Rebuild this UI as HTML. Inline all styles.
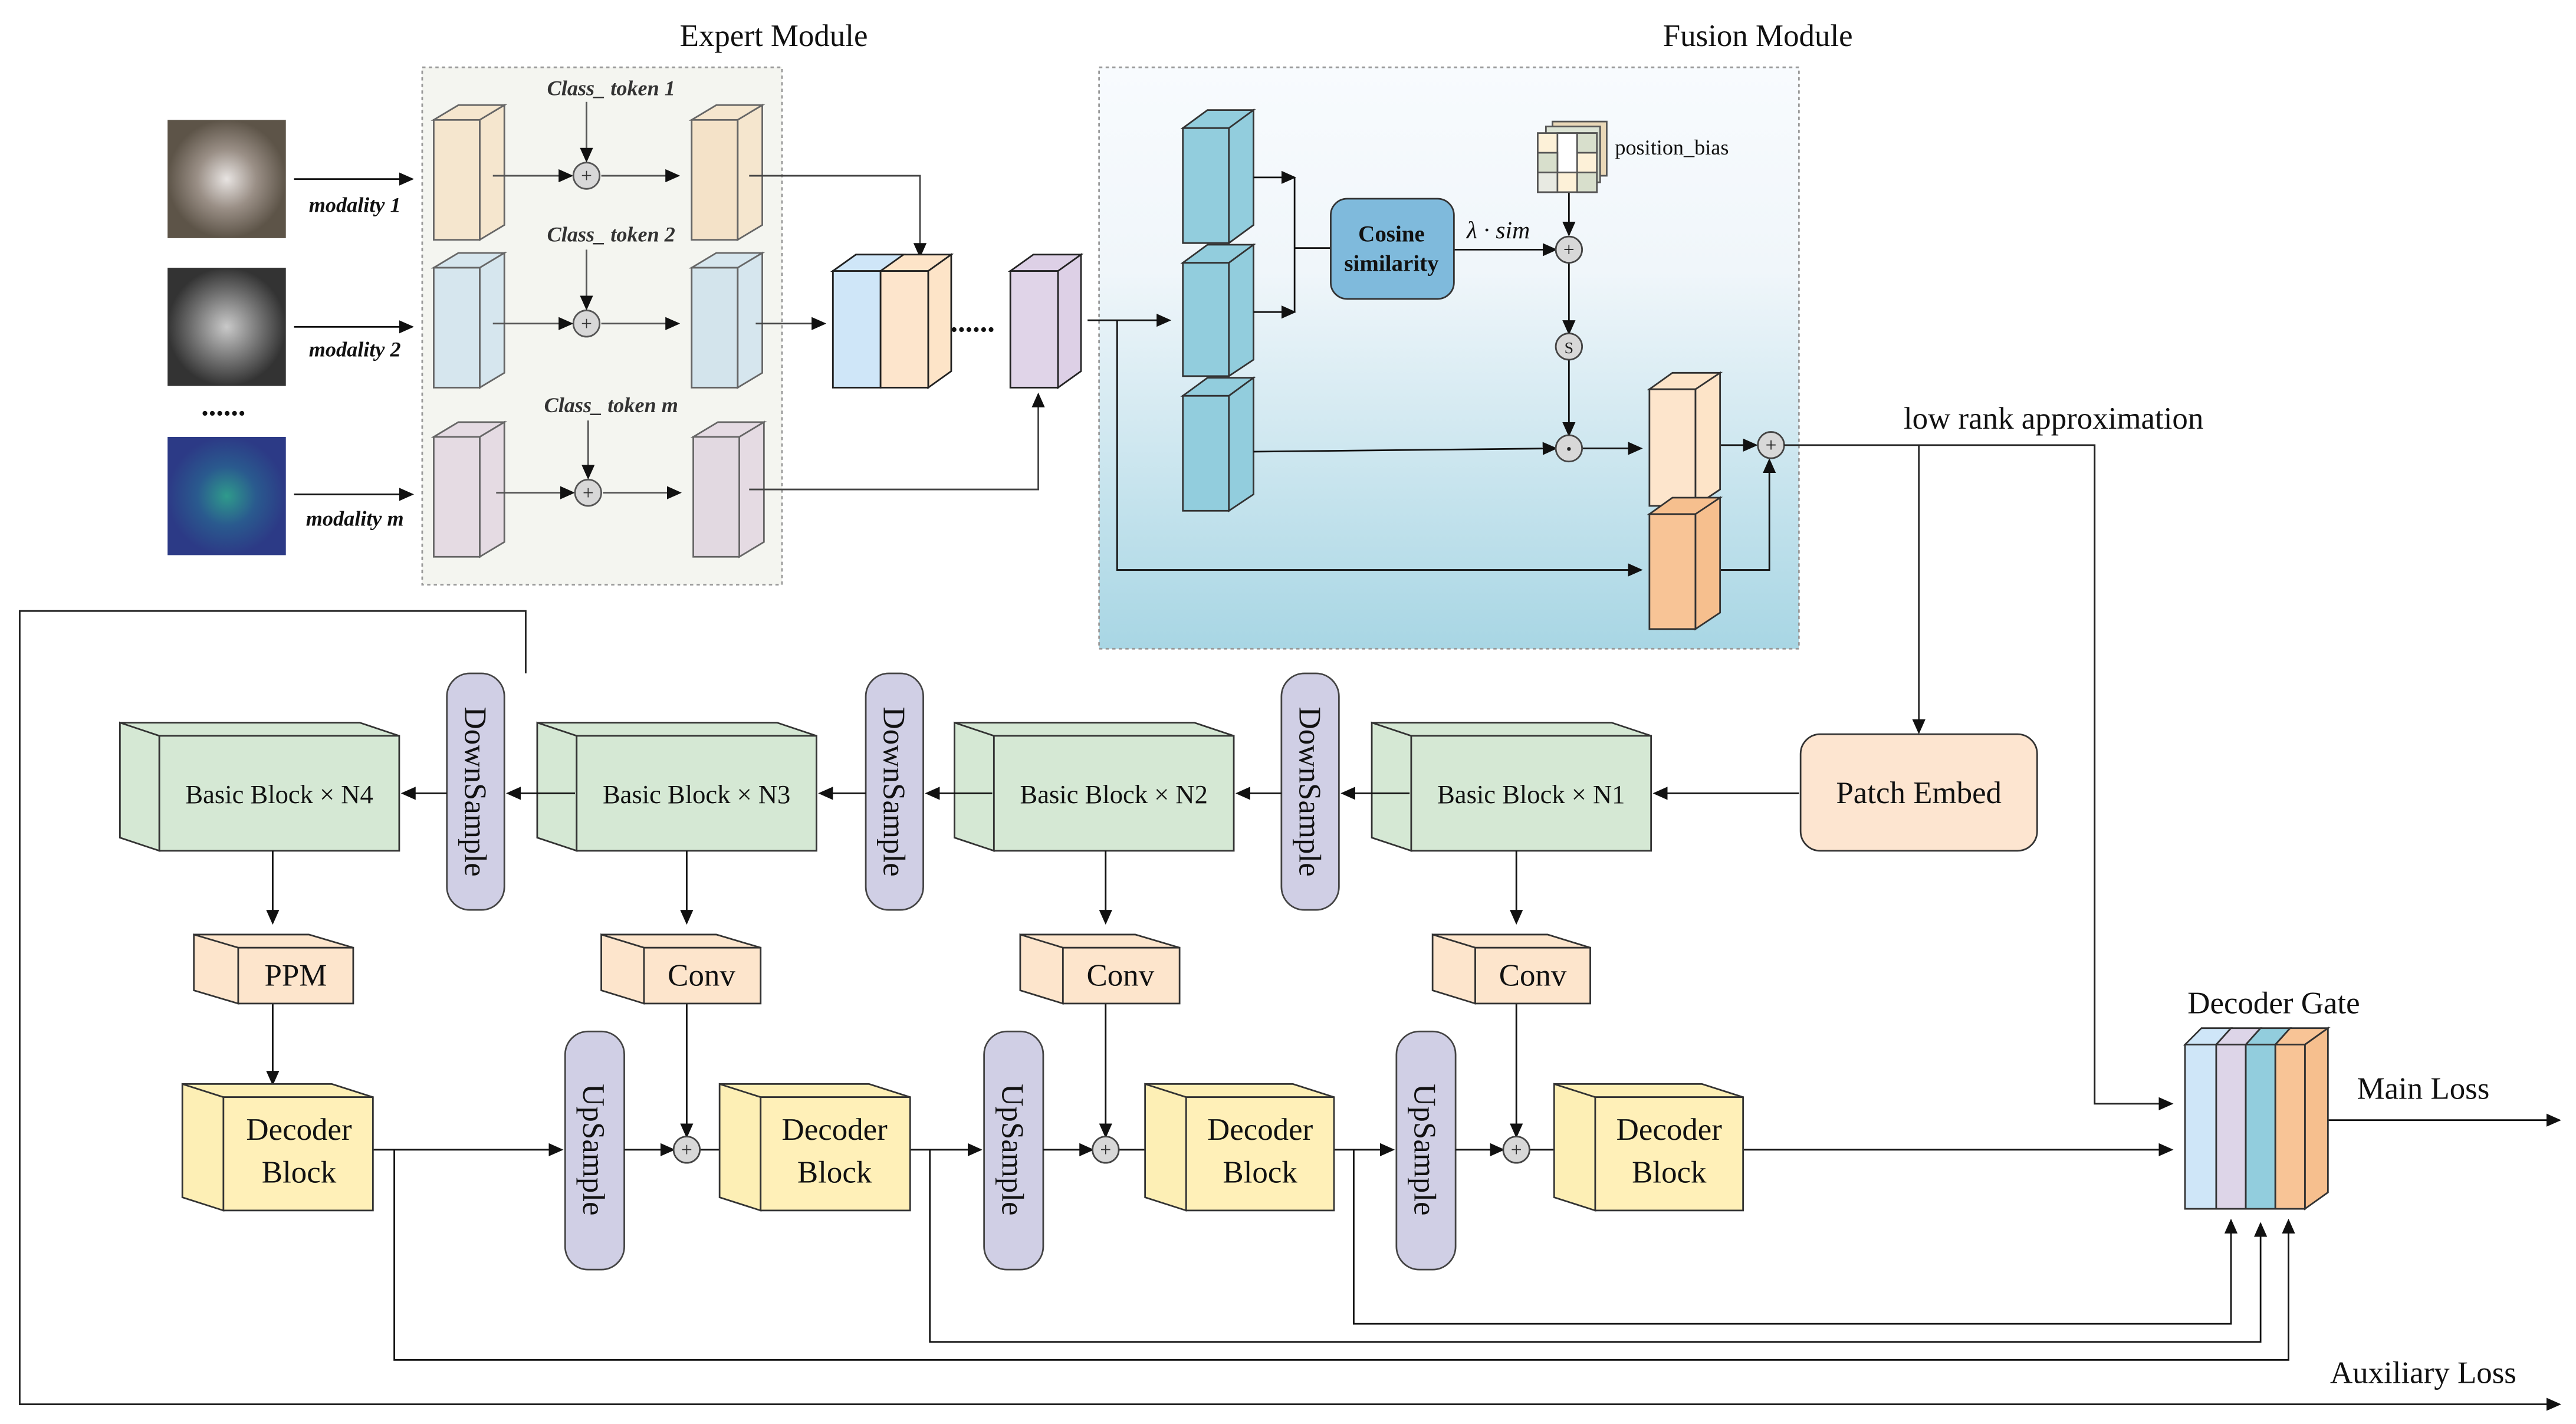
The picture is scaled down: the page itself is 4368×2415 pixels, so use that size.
<!DOCTYPE html>
<html><head><meta charset="utf-8"><style>html,body{margin:0;padding:0;background:#fff}svg{display:block}svg text{font-family:"Liberation Serif","DejaVu Serif",serif}</style></head><body>
<svg width="4368" height="2415" viewBox="0 0 1568 867" preserveAspectRatio="none" xmlns="http://www.w3.org/2000/svg">
<defs>
<marker id="a" markerUnits="userSpaceOnUse" markerWidth="9" markerHeight="8" refX="8" refY="4" orient="auto"><path d="M0,0 L9,4 L0,8 z" fill="#111"/></marker>
<linearGradient id="fg" x1="0" y1="0" x2="0" y2="1"><stop offset="0" stop-color="#f8fbfe"/><stop offset="0.35" stop-color="#f0f6fa"/><stop offset="1" stop-color="#a8d6e4"/></linearGradient>
<radialGradient id="im1"><stop offset="0" stop-color="#e8e4e2"/><stop offset="0.5" stop-color="#9a8f86"/><stop offset="1" stop-color="#5d5448"/></radialGradient>
<radialGradient id="im2"><stop offset="0" stop-color="#c9c9c9"/><stop offset="0.6" stop-color="#6e6e6e"/><stop offset="1" stop-color="#333"/></radialGradient>
<radialGradient id="im3"><stop offset="0" stop-color="#2f9a8c"/><stop offset="0.5" stop-color="#2a5a8e"/><stop offset="1" stop-color="#2c3a86"/></radialGradient>
</defs>
<g stroke="#333" stroke-width="1">
<text x="471" y="28" font-size="19" text-anchor="middle" stroke="none" fill="#111">Expert Module</text>
<text x="1070" y="28" font-size="19" text-anchor="middle" stroke="none" fill="#111">Fusion Module</text>
<rect x="257" y="41" width="219" height="315" fill="#f4f5f0" stroke="#999" stroke-dasharray="2,2"/>
<rect x="669" y="41" width="426" height="354" fill="url(#fg)" stroke="#999" stroke-dasharray="2,2"/>
<rect x="102" y="73" width="72" height="72" fill="url(#im1)" stroke="none"/>
<rect x="102" y="163" width="72" height="72" fill="url(#im2)" stroke="none"/>
<rect x="102" y="266" width="72" height="72" fill="url(#im3)" stroke="none"/>
<text x="136" y="253" font-size="18" font-weight="bold" text-anchor="middle" stroke="none" fill="#111">......</text>
<g stroke="#111"><line x1="179" y1="109" x2="251" y2="109" marker-end="url(#a)"/><line x1="179" y1="199" x2="251" y2="199" marker-end="url(#a)"/><line x1="179" y1="301" x2="251" y2="301" marker-end="url(#a)"/></g>
<g font-size="13" font-style="italic" font-weight="bold" stroke="none" fill="#111" text-anchor="middle">
<text x="216" y="129">modality 1</text><text x="216" y="217">modality 2</text><text x="216" y="320">modality m</text></g>
<g stroke="#666">
<path d="M264,73 L279,64 L307,64 L292,73Z M292,73 L307,64 L307,137 L292,146Z" fill="#f5e6ce"/><rect x="264" y="73" width="28" height="73" fill="#f5e6ce"/>
<path d="M421,73 L436,64 L464,64 L449,73Z M449,73 L464,64 L464,137 L449,146Z" fill="#f5e6ce"/><rect x="421" y="73" width="28" height="73" fill="#f4e2c8"/>
<path d="M264,163 L279,154 L307,154 L292,163Z M292,163 L307,154 L307,227 L292,236Z" fill="#d6e6ee"/><rect x="264" y="163" width="28" height="73" fill="#d6e6ee"/>
<path d="M421,163 L436,154 L464,154 L449,163Z M449,163 L464,154 L464,227 L449,236Z" fill="#d6e6ee"/><rect x="421" y="163" width="28" height="73" fill="#d3e4ec"/>
<path d="M264,266 L279,257 L307,257 L292,266Z M292,266 L307,257 L307,330 L292,339Z" fill="#e5dbe3"/><rect x="264" y="266" width="28" height="73" fill="#e5dbe3"/>
<path d="M422,266 L437,257 L465,257 L450,266Z M450,266 L465,257 L465,330 L450,339Z" fill="#e5dbe3"/><rect x="422" y="266" width="28" height="73" fill="#e2d9e1"/>
</g>
<g font-size="13" font-style="italic" font-weight="bold" stroke="none" fill="#333" text-anchor="middle">
<text x="372" y="58">Class_  token 1</text><text x="372" y="147">Class_  token 2</text><text x="372" y="251">Class_  token m</text></g>
<g stroke="#555">
<line x1="357" y1="62" x2="357" y2="98" marker-end="url(#a)"/><line x1="357" y1="152" x2="357" y2="188" marker-end="url(#a)"/><line x1="358" y1="256" x2="358" y2="291" marker-end="url(#a)"/>
<line x1="300" y1="107" x2="348" y2="107" marker-end="url(#a)"/><line x1="366" y1="107" x2="413" y2="107" marker-end="url(#a)"/>
<line x1="300" y1="197" x2="348" y2="197" marker-end="url(#a)"/><line x1="366" y1="197" x2="413" y2="197" marker-end="url(#a)"/>
<line x1="302" y1="300" x2="349" y2="300" marker-end="url(#a)"/><line x1="367" y1="300" x2="414" y2="300" marker-end="url(#a)"/>
</g>
<g fill="#d8d8d8" stroke="#555"><circle cx="357" cy="107" r="8"/><circle cx="357" cy="197" r="8"/><circle cx="358" cy="300" r="8"/></g>
<g font-size="12" text-anchor="middle" stroke="none" fill="#333"><text x="357" y="111">+</text><text x="357" y="201">+</text><text x="358" y="304">+</text></g>
<g stroke="#444" fill="none">
<path d="M456,107 L560,107 L560,156" marker-end="url(#a)"/>
<line x1="460" y1="197" x2="502" y2="197" marker-end="url(#a)"/>
<path d="M456,298 L632,298 L632,240" marker-end="url(#a)"/>
</g>
<g stroke="#222">
<path d="M507,165 L521,155 L579,155 L565,165Z" fill="#fde4c8"/><path d="M507,165 L521,155 L550,155 L536,165Z" fill="#cfe6f8"/>
<path d="M565,165 L579,155 L579,226 L565,236Z" fill="#fde4c8"/>
<rect x="507" y="165" width="29" height="71" fill="#cfe6f8"/><rect x="536" y="165" width="29" height="71" fill="#fde5cc"/>
<path d="M615,165 L629,155 L658,155 L644,165Z M644,165 L658,155 L658,226 L644,236Z" fill="#ddd0e6"/><rect x="615" y="165" width="29" height="71" fill="#e0d4e8"/>
</g>
<text x="592" y="202" font-size="18" font-weight="bold" text-anchor="middle" stroke="none" fill="#111">......</text>
<g stroke="#111" fill="none">
<line x1="662" y1="195" x2="712" y2="195" marker-end="url(#a)"/>
<path d="M680,195 L680,347 L999,347" marker-end="url(#a)"/>
</g>
<g stroke="#333" fill="#92cddd">
<path d="M720,78 L735,67 L763,67 L748,78Z M748,78 L763,67 L763,137 L748,148Z"/><rect x="720" y="78" width="28" height="70"/>
<path d="M720,160 L735,149 L763,149 L748,160Z M748,160 L763,149 L763,219 L748,229Z"/><rect x="720" y="160" width="28" height="69"/>
<path d="M720,241 L735,230 L763,230 L748,241Z M748,241 L763,230 L763,301 L748,311Z"/><rect x="720" y="241" width="28" height="70"/>
</g>
<g stroke="#111" fill="none">
<line x1="763" y1="108" x2="788" y2="108" marker-end="url(#a)"/><line x1="763" y1="190" x2="788" y2="190" marker-end="url(#a)"/>
<line x1="788" y1="108" x2="788" y2="190"/><line x1="788" y1="151" x2="810" y2="151"/>
<line x1="885" y1="152" x2="947" y2="152" marker-end="url(#a)"/>
<line x1="955" y1="117" x2="955" y2="143" marker-end="url(#a)"/>
<line x1="955" y1="160" x2="955" y2="203" marker-end="url(#a)"/>
<line x1="955" y1="219" x2="955" y2="265" marker-end="url(#a)"/>
<line x1="763" y1="275" x2="947" y2="273" marker-end="url(#a)"/>
<line x1="963" y1="273" x2="999" y2="273" marker-end="url(#a)"/>
<line x1="1040" y1="271" x2="1069" y2="271" marker-end="url(#a)"/>
<path d="M1040,347 L1077,347 L1077,280" marker-end="url(#a)"/>
</g>
<rect x="810" y="121" width="75" height="61" rx="10" fill="#7fbadc" stroke="#333"/>
<text x="847" y="147" font-size="14" font-weight="bold" text-anchor="middle" stroke="none" fill="#111">Cosine</text>
<text x="847" y="165" font-size="14" font-weight="bold" text-anchor="middle" stroke="none" fill="#111">similarity</text>
<text x="912" y="145" font-size="15" font-style="italic" text-anchor="middle" stroke="none" fill="#111">λ · sim</text>
<g stroke="#555">
<rect x="945" y="74" width="33" height="33" fill="#ead8b8"/><rect x="941" y="77" width="33" height="34" fill="#dce3d4"/>
<rect x="936" y="81" width="36" height="36" fill="#fdf1d8"/>
<rect x="948" y="81" width="12" height="24" fill="#fff"/><rect x="960" y="81" width="12" height="12" fill="#d8dfcc"/><rect x="936" y="93" width="12" height="12" fill="#d8dfcc"/><rect x="960" y="105" width="12" height="12" fill="#d8dfcc"/><rect x="936" y="105" width="12" height="12" fill="#e8eae2"/>
</g>
<text x="983" y="94" font-size="13" stroke="none" fill="#111">position_bias</text>
<g fill="#d8d8d8" stroke="#444"><circle cx="955" cy="152" r="8"/><circle cx="955" cy="211" r="8"/><circle cx="955" cy="273" r="8"/><circle cx="1078" cy="271" r="8"/></g>
<g text-anchor="middle" stroke="none" fill="#222"><text x="955" y="156" font-size="12">+</text><text x="955" y="215" font-size="10">S</text><text x="955" y="278" font-size="14" font-weight="bold">·</text><text x="1078" y="275" font-size="12">+</text></g>
<g stroke="#333">
<path d="M1004,237 L1018,227 L1047,227 L1032,237Z M1032,237 L1047,227 L1047,298 L1032,308Z" fill="#fde4c8"/><rect x="1004" y="237" width="28" height="71" fill="#fde5cc"/>
<path d="M1004,313 L1018,303 L1047,303 L1032,313Z M1032,313 L1047,303 L1047,373 L1032,383Z" fill="#f6bf8e"/><rect x="1004" y="313" width="28" height="70" fill="#f8c496"/>
</g>
<text x="1250" y="261" font-size="19" text-anchor="middle" stroke="none" fill="#111">low rank approximation</text>
<g stroke="#222" fill="none">
<path d="M1086,271 L1275,271 L1275,672 L1322,672" marker-end="url(#a)"/>
<line x1="1168" y1="271" x2="1168" y2="446" marker-end="url(#a)"/>
<path d="M320,410 L320,372 L12,372 L12,855 L1558,855" marker-end="url(#a)"/>
</g>
<text x="1475" y="842" font-size="19" text-anchor="middle" stroke="none" fill="#111">Auxiliary Loss</text>
<g stroke="#333" fill="#d5e8d4">
<path d="M73,440 L219,440 L243,448 L97,448Z M73,440 L97,448 L97,518 L73,510Z"/><rect x="97" y="448" width="146" height="70"/>
<path d="M327,440 L473,440 L497,448 L351,448Z M327,440 L351,448 L351,518 L327,510Z"/><rect x="351" y="448" width="146" height="70"/>
<path d="M581,440 L727,440 L751,448 L605,448Z M581,440 L605,448 L605,518 L581,510Z"/><rect x="605" y="448" width="146" height="70"/>
<path d="M835,440 L981,440 L1005,448 L859,448Z M835,440 L859,448 L859,518 L835,510Z"/><rect x="859" y="448" width="146" height="70"/>
</g>
<g font-size="16" text-anchor="middle" stroke="none" fill="#111">
<text x="170" y="489">Basic Block × N4</text><text x="424" y="489">Basic Block × N3</text><text x="678" y="489">Basic Block × N2</text><text x="932" y="489">Basic Block × N1</text></g>
<rect x="1096" y="447" width="144" height="71" rx="12" fill="#fde5d0" stroke="#333"/>
<text x="1168" y="489" font-size="19" text-anchor="middle" stroke="none" fill="#111">Patch Embed</text>
<g fill="#d0cfe5" stroke="#444">
<rect x="272" y="410" width="35" height="144" rx="14"/><rect x="527" y="410" width="35" height="144" rx="14"/><rect x="780" y="410" width="35" height="144" rx="14"/>
<rect x="344" y="628" width="36" height="145" rx="14"/><rect x="599" y="628" width="36" height="145" rx="14"/><rect x="850" y="628" width="36" height="145" rx="14"/>
</g>
<g font-size="19" text-anchor="middle" stroke="none" fill="#111">
<text transform="translate(283,482) rotate(90)">DownSample</text><text transform="translate(538,482) rotate(90)">DownSample</text><text transform="translate(791,482) rotate(90)">DownSample</text>
<text transform="translate(355,700) rotate(90)">UpSample</text><text transform="translate(610,700) rotate(90)">UpSample</text><text transform="translate(861,700) rotate(90)">UpSample</text>
</g>
<g stroke="#111" fill="none">
<line x1="1095" y1="483" x2="1007" y2="483" marker-end="url(#a)"/><line x1="858" y1="483" x2="817" y2="483" marker-end="url(#a)"/><line x1="780" y1="483" x2="753" y2="483" marker-end="url(#a)"/>
<line x1="604" y1="483" x2="564" y2="483" marker-end="url(#a)"/><line x1="527" y1="483" x2="499" y2="483" marker-end="url(#a)"/>
<line x1="350" y1="483" x2="309" y2="483" marker-end="url(#a)"/><line x1="272" y1="483" x2="245" y2="483" marker-end="url(#a)"/>
<line x1="166" y1="518" x2="166" y2="562" marker-end="url(#a)"/><line x1="418" y1="518" x2="418" y2="562" marker-end="url(#a)"/><line x1="673" y1="518" x2="673" y2="562" marker-end="url(#a)"/><line x1="923" y1="518" x2="923" y2="562" marker-end="url(#a)"/>
<line x1="166" y1="611" x2="166" y2="660" marker-end="url(#a)"/><line x1="418" y1="611" x2="418" y2="692" marker-end="url(#a)"/><line x1="673" y1="611" x2="673" y2="692" marker-end="url(#a)"/><line x1="923" y1="611" x2="923" y2="692" marker-end="url(#a)"/>
<line x1="227" y1="700" x2="342" y2="700" marker-end="url(#a)"/><line x1="380" y1="700" x2="410" y2="700" marker-end="url(#a)"/><line x1="426" y1="700" x2="456" y2="700" marker-end="url(#a)"/>
<line x1="554" y1="700" x2="597" y2="700" marker-end="url(#a)"/><line x1="635" y1="700" x2="665" y2="700" marker-end="url(#a)"/><line x1="681" y1="700" x2="712" y2="700" marker-end="url(#a)"/>
<line x1="812" y1="700" x2="848" y2="700" marker-end="url(#a)"/><line x1="886" y1="700" x2="915" y2="700" marker-end="url(#a)"/><line x1="931" y1="700" x2="961" y2="700" marker-end="url(#a)"/>
<line x1="1061" y1="700" x2="1322" y2="700" marker-end="url(#a)"/>
<path d="M240,700 L240,828 L1393,828 L1393,743" marker-end="url(#a)"/>
<path d="M566,700 L566,817 L1376,817 L1376,745" marker-end="url(#a)"/>
<path d="M824,700 L824,806 L1358,806 L1358,743" marker-end="url(#a)"/>
<line x1="1410" y1="682" x2="1558" y2="682" marker-end="url(#a)"/>
</g>
<g fill="#d8d8d8" stroke="#444"><circle cx="418" cy="700" r="8"/><circle cx="673" cy="700" r="8"/><circle cx="923" cy="700" r="8"/></g>
<g text-anchor="middle" stroke="none" fill="#333" font-size="12"><text x="418" y="704">+</text><text x="673" y="704">+</text><text x="923" y="704">+</text></g>
<g stroke="#333" fill="#fde5cc">
<path d="M118,569 L188,569 L215,577 L145,577Z M118,569 L145,577 L145,611 L118,603Z"/><rect x="145" y="577" width="70" height="34"/>
<path d="M366,569 L436,569 L463,577 L392,577Z M366,569 L392,577 L392,611 L366,603Z"/><rect x="392" y="577" width="71" height="34"/>
<path d="M621,569 L691,569 L718,577 L647,577Z M621,569 L647,577 L647,611 L621,603Z"/><rect x="647" y="577" width="71" height="34"/>
<path d="M872,569 L942,569 L968,577 L898,577Z M872,569 L898,577 L898,611 L872,603Z"/><rect x="898" y="577" width="70" height="34"/>
</g>
<g font-size="19" text-anchor="middle" stroke="none" fill="#111"><text x="180" y="600">PPM</text><text x="427" y="600">Conv</text><text x="682" y="600">Conv</text><text x="933" y="600">Conv</text></g>
<g stroke="#333" fill="#fdefb5">
<path d="M111,660 L202,660 L227,668 L136,668Z M111,660 L136,668 L136,737 L111,729Z"/><rect x="136" y="668" width="91" height="69" fill="#fff0b8"/>
<path d="M438,660 L529,660 L554,668 L463,668Z M438,660 L463,668 L463,737 L438,729Z"/><rect x="463" y="668" width="91" height="69" fill="#fff0b8"/>
<path d="M697,660 L787,660 L812,668 L722,668Z M697,660 L722,668 L722,737 L697,729Z"/><rect x="722" y="668" width="90" height="69" fill="#fff0b8"/>
<path d="M946,660 L1036,660 L1061,668 L971,668Z M946,660 L971,668 L971,737 L946,729Z"/><rect x="971" y="668" width="90" height="69" fill="#fff0b8"/>
</g>
<g font-size="19" text-anchor="middle" stroke="none" fill="#111">
<text x="182" y="694">Decoder</text><text x="182" y="720">Block</text>
<text x="508" y="694">Decoder</text><text x="508" y="720">Block</text>
<text x="767" y="694">Decoder</text><text x="767" y="720">Block</text>
<text x="1016" y="694">Decoder</text><text x="1016" y="720">Block</text>
</g>
<g stroke="#333">
<path d="M1330,636 L1340,626 L1358,626 L1349,636Z" fill="#cfe6f8"/><path d="M1349,636 L1358,626 L1376,626 L1367,636Z" fill="#ddd5e8"/><path d="M1367,636 L1376,626 L1394,626 L1385,636Z" fill="#92cddd"/><path d="M1385,636 L1394,626 L1417,626 L1403,636Z" fill="#f8c496"/>
<path d="M1403,636 L1417,626 L1417,726 L1403,736Z" fill="#f6bf8e"/>
<rect x="1330" y="636" width="19" height="100" fill="#cfe6f8"/><rect x="1349" y="636" width="18" height="100" fill="#ddd5e8"/><rect x="1367" y="636" width="18" height="100" fill="#92cddd"/><rect x="1385" y="636" width="18" height="100" fill="#f8c496"/>
</g>
<text x="1384" y="617" font-size="19" text-anchor="middle" stroke="none" fill="#111">Decoder Gate</text>
<text x="1475" y="669" font-size="19" text-anchor="middle" stroke="none" fill="#111">Main Loss</text>
</g>
</svg>
</body></html>
